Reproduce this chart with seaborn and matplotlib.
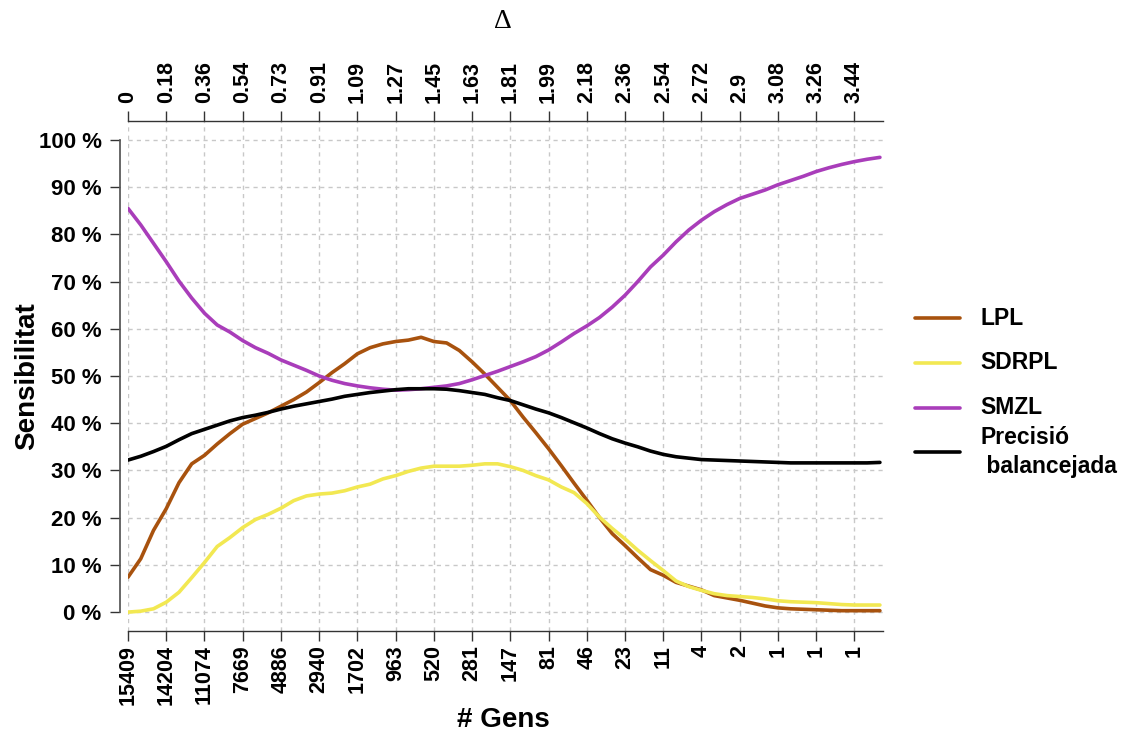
import numpy as np
import pandas as pd
import matplotlib
matplotlib.use("Agg")
import matplotlib.pyplot as plt
import seaborn as sns
from matplotlib.lines import Line2D

# Threshold values (Delta) at which the sensitivity was evaluated
delta_step = 0.06043
delta = np.arange(60) * delta_step

lpl = [7.4, 11.3, 17.3, 21.9, 27.4, 31.4, 33.2, 35.6, 37.8, 39.8,
       41.0, 42.2, 43.6, 45.0, 46.6, 48.6, 50.7, 52.6, 54.7, 56.0,
       56.8, 57.3, 57.6, 58.2, 57.3, 57.0, 55.4, 53.0, 50.4, 47.6,
       44.8, 41.3, 38.0, 34.6, 31.0, 27.3, 23.7, 20.0, 16.6, 14.1,
       11.5, 9.0, 7.8, 6.3, 5.5, 4.7, 3.5, 3.0, 2.5, 1.9,
       1.3, 0.9, 0.7, 0.6, 0.5, 0.4, 0.3, 0.3, 0.3, 0.3]

sdrpl = [0.0, 0.2, 0.7, 2.1, 4.2, 7.3, 10.5, 13.9, 15.8, 17.9,
         19.6, 20.7, 22.0, 23.6, 24.6, 25.0, 25.2, 25.7, 26.5, 27.1,
         28.2, 28.9, 29.8, 30.5, 30.9, 30.9, 30.9, 31.1, 31.4, 31.4,
         30.8, 30.0, 28.9, 28.0, 26.5, 25.3, 23.0, 20.1, 17.7, 15.5,
         13.1, 10.9, 8.8, 6.6, 5.4, 4.6, 3.9, 3.5, 3.3, 3.1,
         2.8, 2.4, 2.2, 2.1, 2.0, 1.8, 1.6, 1.5, 1.5, 1.5]

smzl = [85.5, 82.0, 78.1, 74.2, 70.1, 66.5, 63.3, 60.8, 59.3, 57.5,
        56.0, 54.8, 53.4, 52.3, 51.2, 50.0, 49.1, 48.4, 47.9, 47.5,
        47.2, 47.0, 47.1, 47.3, 47.6, 47.9, 48.4, 49.2, 50.1, 51.0,
        52.0, 53.0, 54.1, 55.5, 57.2, 59.0, 60.6, 62.4, 64.6, 67.1,
        70.0, 73.1, 75.6, 78.4, 80.9, 83.0, 84.8, 86.3, 87.6, 88.5,
        89.4, 90.5, 91.4, 92.3, 93.3, 94.1, 94.8, 95.4, 95.9, 96.3]

balanced = [32.2, 33.0, 34.0, 35.1, 36.5, 37.8, 38.7, 39.6, 40.5, 41.2,
            41.7, 42.3, 43.0, 43.6, 44.1, 44.6, 45.1, 45.7, 46.1, 46.5,
            46.8, 47.1, 47.3, 47.3, 47.3, 47.2, 46.9, 46.5, 46.1, 45.4,
            44.8, 43.9, 43.0, 42.2, 41.2, 40.1, 39.0, 37.8, 36.7, 35.8,
            35.0, 34.1, 33.4, 32.9, 32.6, 32.3, 32.2, 32.1, 32.0, 31.9,
            31.8, 31.7, 31.6, 31.6, 31.6, 31.6, 31.6, 31.6, 31.6, 31.7]

delta_labels = ["0", "0.18", "0.36", "0.54", "0.73", "0.91", "1.09", "1.27",
                "1.45", "1.63", "1.81", "1.99", "2.18", "2.36", "2.54", "2.72",
                "2.9", "3.08", "3.26", "3.44"]
gene_labels = ["15409", "14204", "11074", "7669", "4886", "2940", "1702", "963",
               "520", "281", "147", "81", "46", "23", "11", "4", "2", "1", "1", "1"]

series_names = ["LPL", "SDRPL", "SMZL", "Precisió\n balancejada"]
series_colors = ["#A8520E", "#F2E852", "#A93DBA", "#000000"]

sns.set_theme(style="white")
plt.rcParams["font.family"] = ["Liberation Sans", "DejaVu Sans"]
plt.rcParams["font.weight"] = "bold"
plt.rcParams["text.color"] = "black"
plt.rcParams["xtick.color"] = "black"
plt.rcParams["ytick.color"] = "black"

df = pd.DataFrame({
    "delta": np.tile(delta, 4),
    "sens": np.concatenate([lpl, sdrpl, smzl, balanced]),
    "serie": np.repeat(series_names, len(delta)),
})

W, H = 1124, 735
fig = plt.figure(figsize=(W / 100, H / 100), dpi=100)
ax = fig.add_axes([128 / W, 1 - 631 / H, 755 / W, 510 / H])

sns.lineplot(data=df, x="delta", y="sens", hue="serie", hue_order=series_names,
             palette=series_colors, linewidth=2.6, legend=False, ax=ax,
             estimator=None, sort=False)

ax.set_xlim(0, 3.58)
ax.set_ylim(-4, 104)
ax.set_xlabel("")
ax.set_ylabel("")

ax.grid(True, color="#c8c8c8", linestyle=(0, (3, 3)), linewidth=1)

# Axis lines: left axis detached, bottom and top along the frame
ax.spines["right"].set_visible(False)
ax.spines["left"].set_position(("outward", 6))
ax.spines["left"].set_bounds(0, 100)
ax.spines["left"].set_color("#555555")
for side in ["bottom", "top"]:
    ax.spines[side].set_color("#333333")
    ax.spines[side].set_linewidth(1)

tick_x = delta[::3]
ax.set_xticks(tick_x)
ax.set_xticklabels(gene_labels, rotation=90)
ax.set_yticks(range(0, 101, 10))
ax.set_yticklabels([f"{v} %" for v in range(0, 101, 10)])

ax.tick_params(axis="both", direction="out", length=7, width=1, color="#333333",
               labelcolor="black", bottom=True, left=True)
ax.tick_params(axis="x", pad=3, labelsize=15.5)
ax.tick_params(axis="y", pad=6, labelsize=16)

top = ax.secondary_xaxis("top")
top.set_xticks(tick_x, labels=delta_labels)
top.tick_params(direction="out", length=7, width=1, color="#333333", pad=6,
                labelsize=15.5, labelrotation=90, labelcolor="black")
top.spines["top"].set_visible(False)

fig.text(503 / W, 1 - 720 / H, "# Gens", fontsize=20, fontweight="bold",
         ha="center", va="center")
fig.text(27 / W, 1 - 376 / H, "Sensibilitat", fontsize=20, fontweight="bold",
         ha="center", va="center", rotation=90)
fig.text(503 / W, 1 - 22 / H, "Δ", fontsize=20, family=["Liberation Serif", "DejaVu Serif"],
         fontweight="normal", ha="center", va="center")

# Legend to the right of the plotting area
legend_y = [318, 363, 408, 452]
for name, col, y in zip(series_names, series_colors, legend_y):
    fig.add_artist(Line2D([915 / W, 960 / W], [1 - y / H, 1 - y / H],
                          transform=fig.transFigure, color=col, linewidth=2.6))
    fig.text(980 / W, 1 - y / H, name, fontsize=16.5, fontweight="bold",
             ha="left", va="center", linespacing=1.3)

fig.savefig("out.png", dpi=100)
